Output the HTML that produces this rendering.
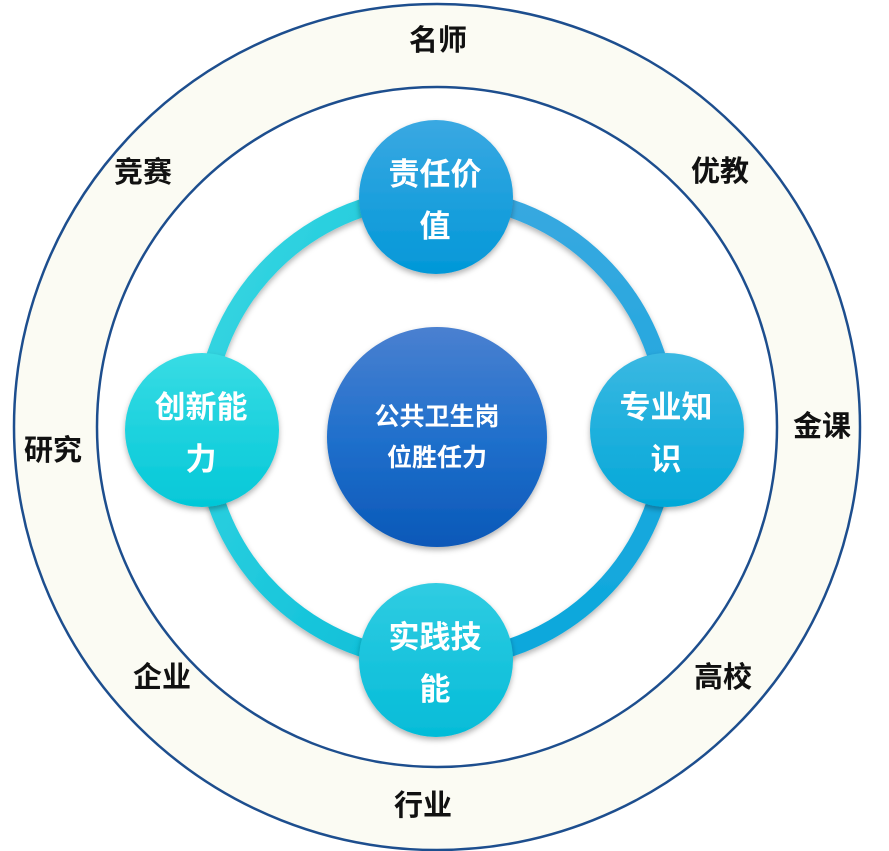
<!DOCTYPE html>
<html><head><meta charset="utf-8"><style>
html,body{margin:0;padding:0;background:#fff;}
svg{display:block;}
text{font-family:"Liberation Sans","Noto Sans CJK SC",sans-serif;font-weight:bold;}
</style></head><body>
<svg width="889" height="851" viewBox="0 0 889 851">
<defs>
<linearGradient id="ringL" x1="0" y1="0" x2="1" y2="1"><stop offset="0" stop-color="#3ad8e2"/><stop offset="1" stop-color="#08bcd8"/></linearGradient>
<linearGradient id="ringR" x1="0" y1="0" x2="0" y2="1"><stop offset="0" stop-color="#38a8e0"/><stop offset="1" stop-color="#0aa8dc"/></linearGradient>
<linearGradient id="gT" x1="0" y1="0" x2="0" y2="1"><stop offset="0" stop-color="#3aa8e2"/><stop offset="1" stop-color="#0298d8"/></linearGradient>
<linearGradient id="gR" x1="0" y1="0" x2="0" y2="1"><stop offset="0" stop-color="#3ab8e2"/><stop offset="1" stop-color="#04a8d8"/></linearGradient>
<linearGradient id="gB" x1="0" y1="0" x2="0" y2="1"><stop offset="0" stop-color="#30cce2"/><stop offset="1" stop-color="#04bcd8"/></linearGradient>
<linearGradient id="gL" x1="0" y1="0" x2="0" y2="1"><stop offset="0" stop-color="#38dce4"/><stop offset="1" stop-color="#04c8d8"/></linearGradient>
<linearGradient id="gC" x1="0" y1="0" x2="0" y2="1"><stop offset="0" stop-color="#4a80d0"/><stop offset="0.5" stop-color="#2070cc"/><stop offset="1" stop-color="#0a58b8"/></linearGradient>
<filter id="sh" x="-20%" y="-20%" width="140%" height="140%"><feDropShadow dx="0" dy="3" stdDeviation="3" flood-color="#000" flood-opacity="0.3"/></filter>
</defs>
<circle cx="437" cy="427" r="423" fill="#fbfbf3" stroke="#1d4e8e" stroke-width="2.5"/>
<circle cx="437" cy="427" r="340" fill="#fff" stroke="#1d4e8e" stroke-width="2.5"/>
<path d="M436 196 A232 232 0 0 0 436 660" fill="none" stroke="url(#ringL)" stroke-width="18" filter="url(#sh)"/>
<path d="M436 196 A232 232 0 0 1 436 660" fill="none" stroke="url(#ringR)" stroke-width="18" filter="url(#sh)"/>
<circle cx="437" cy="437" r="110" fill="url(#gC)" filter="url(#sh)"/>
<circle cx="436" cy="197" r="77" fill="url(#gT)" filter="url(#sh)"/>
<circle cx="667" cy="430" r="77" fill="url(#gR)" filter="url(#sh)"/>
<circle cx="436" cy="660" r="77" fill="url(#gB)" filter="url(#sh)"/>
<circle cx="202" cy="430" r="77" fill="url(#gL)" filter="url(#sh)"/>
<g fill="#fff" font-size="31" text-anchor="middle">
<text x="435" y="185">责任价</text><text x="435" y="237">值</text>
<text x="666" y="418">专业知</text><text x="666" y="470">识</text>
<text x="435" y="648">实践技</text><text x="435" y="700">能</text>
<text x="201" y="418">创新能</text><text x="201" y="470">力</text>
<text x="437" y="425" font-size="25">公共卫生岗</text><text x="437" y="466" font-size="25">位胜任力</text>
</g>
<g fill="#111" font-size="29" text-anchor="middle">
<text x="438" y="50">名师</text>
<text x="143" y="182">竞赛</text>
<text x="720" y="181">优教</text>
<text x="53" y="460">研究</text>
<text x="822" y="436">金课</text>
<text x="162" y="687">企业</text>
<text x="723" y="687">高校</text>
<text x="423" y="815">行业</text>
</g>
</svg>
</body></html>
